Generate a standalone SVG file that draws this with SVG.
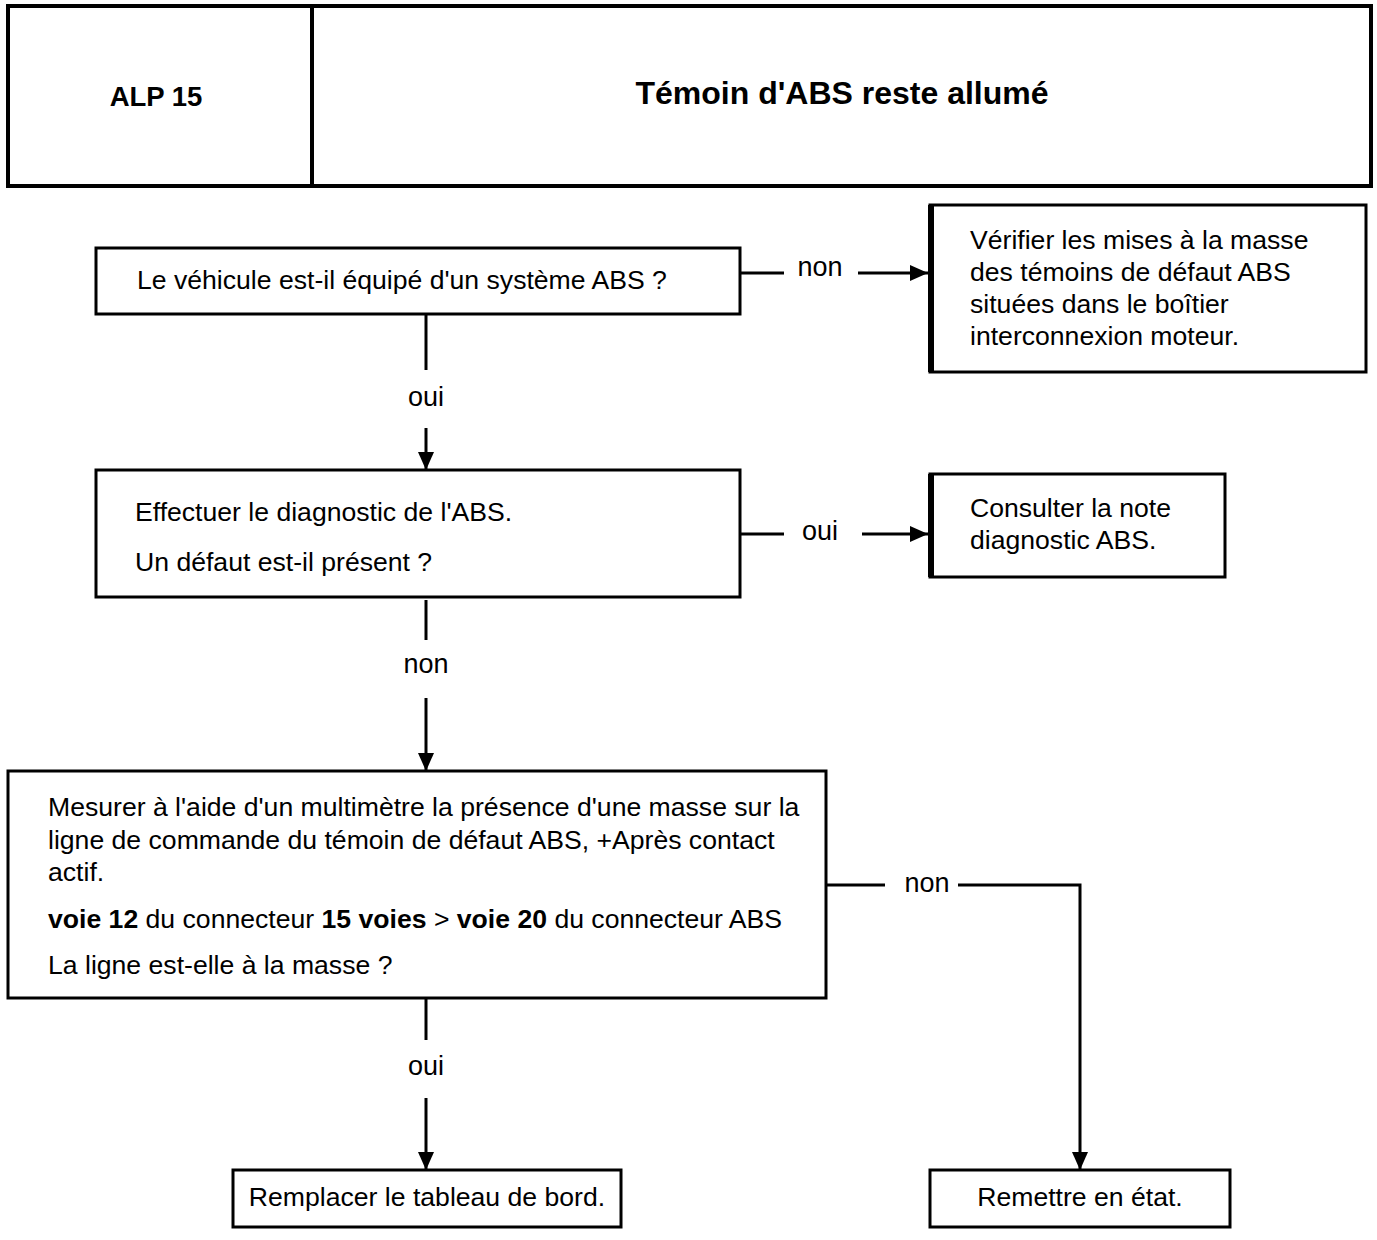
<svg xmlns="http://www.w3.org/2000/svg" width="1377" height="1240" viewBox="0 0 1377 1240">
  <style>
    .box { fill: #fff; stroke: #000; stroke-width: 3; }
    .edge { fill: none; stroke: #000; stroke-width: 3; }
    .thick { stroke: #000; stroke-width: 6; }
    .t { font-family: "Liberation Sans", Arial, sans-serif; font-size: 26.6px; fill: #000; }
    .lbl { font-family: "Liberation Sans", Arial, sans-serif; font-size: 27px; fill: #000; text-anchor: middle; }
    .b { font-weight: bold; }
    .hd { font-family: "Liberation Sans", Arial, sans-serif; font-weight: bold; fill: #000; text-anchor: middle; }
  </style>
  <defs>
    <marker id="arrow" viewBox="0 0 18 16" refX="18" refY="8" markerWidth="18" markerHeight="16" markerUnits="userSpaceOnUse" orient="auto">
      <path d="M0,0 L18,8 L0,16 Z" fill="#000"/>
    </marker>
  </defs>
  <rect width="1377" height="1240" fill="#fff"/>

  <!-- title block -->
  <g id="header">
    <rect x="8" y="6" width="1363" height="180" fill="#fff" stroke="#000" stroke-width="4"/>
    <line x1="312" y1="6" x2="312" y2="186" stroke="#000" stroke-width="4"/>
    <text class="hd" x="156" y="106" font-size="27.5">ALP 15</text>
    <text class="hd" x="842" y="104" font-size="32">Témoin d'ABS reste allumé</text>
  </g>

  <!-- connectors -->
  <g id="connectors">
    <path class="edge" d="M426,314 V370"/>
    <path class="edge" d="M426,428 V470" marker-end="url(#arrow)"/>
    <path class="edge" d="M426,600 V640"/>
    <path class="edge" d="M426,698 V771" marker-end="url(#arrow)"/>
    <path class="edge" d="M426,998 V1040"/>
    <path class="edge" d="M426,1098 V1170" marker-end="url(#arrow)"/>
    <path class="edge" d="M740,273 H784"/>
    <path class="edge" d="M858,273 H928" marker-end="url(#arrow)"/>
    <path class="edge" d="M740,534 H784"/>
    <path class="edge" d="M862,534 H928" marker-end="url(#arrow)"/>
    <path class="edge" d="M826,885 H885"/>
    <path class="edge" d="M958,885 H1080 V1170" marker-end="url(#arrow)"/>
    <text class="lbl" x="820" y="276">non</text>
    <text class="lbl" x="820" y="540">oui</text>
    <text class="lbl" x="426" y="406">oui</text>
    <text class="lbl" x="426" y="673">non</text>
    <text class="lbl" x="426" y="1075">oui</text>
    <text class="lbl" x="927" y="892">non</text>
  </g>

  <g id="q-abs">
    <rect class="box" x="96" y="248" width="644" height="66"/>
    <text class="t" x="137" y="289">Le véhicule est-il équipé d'un système ABS ?</text>
  </g>

  <g id="check-ground">
    <rect class="box" x="930" y="205" width="436" height="167"/>
    <line class="thick" x1="931" y1="205" x2="931" y2="372"/>
    <text class="t" x="970" y="249">Vérifier les mises à la masse</text>
    <text class="t" x="970" y="281">des témoins de défaut ABS</text>
    <text class="t" x="970" y="313">situées dans le boîtier</text>
    <text class="t" x="970" y="345">interconnexion moteur.</text>
  </g>

  <g id="q-diag">
    <rect class="box" x="96" y="470" width="644" height="127"/>
    <text class="t" x="135" y="521">Effectuer le diagnostic de l'ABS.</text>
    <text class="t" x="135" y="571">Un défaut est-il présent ?</text>
  </g>

  <g id="see-note">
    <rect class="box" x="930" y="474" width="295" height="103"/>
    <line class="thick" x1="931" y1="474" x2="931" y2="577"/>
    <text class="t" x="970" y="517">Consulter la note</text>
    <text class="t" x="970" y="549">diagnostic ABS.</text>
  </g>

  <g id="q-line">
    <rect class="box" x="8" y="771" width="818" height="227"/>
    <text class="t" x="48" y="816">Mesurer à l'aide d'un multimètre la présence d'une masse sur la</text>
    <text class="t" x="48" y="849">ligne de commande du témoin de défaut ABS, +Après contact</text>
    <text class="t" x="48" y="881">actif.</text>
    <text class="t" x="48" y="928"><tspan class="b">voie 12</tspan> du connecteur <tspan class="b">15 voies</tspan> &gt; <tspan class="b">voie 20</tspan> du connecteur ABS</text>
    <text class="t" x="48" y="974">La ligne est-elle à la masse ?</text>
  </g>

  <g id="replace-dash">
    <rect class="box" x="233" y="1170" width="388" height="57"/>
    <text class="t" x="427" y="1206" text-anchor="middle">Remplacer le tableau de bord.</text>
  </g>

  <g id="repair">
    <rect class="box" x="930" y="1170" width="300" height="57"/>
    <text class="t" x="1080" y="1206" text-anchor="middle">Remettre en état.</text>
  </g>
</svg>
